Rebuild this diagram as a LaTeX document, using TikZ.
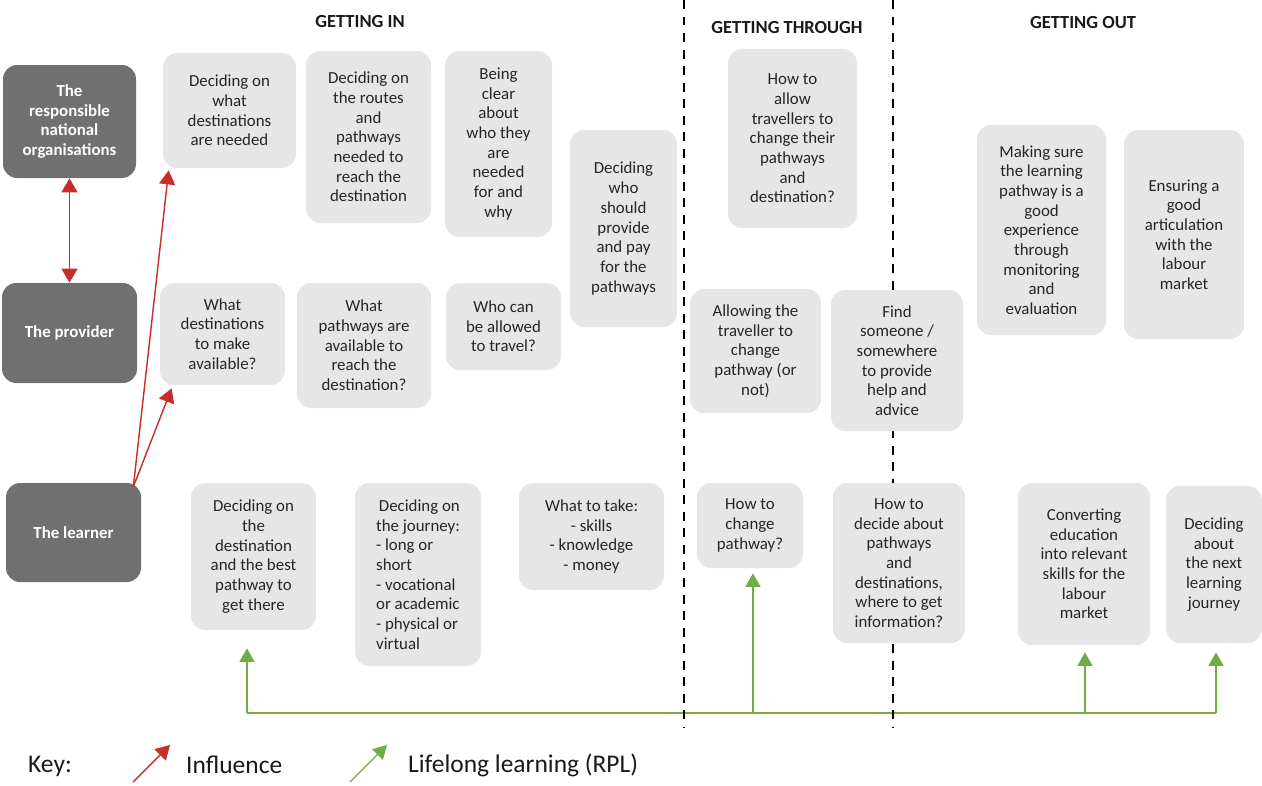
\documentclass[tikz,border=0pt]{standalone}
\usepackage{fontspec}
\setmainfont{Carlito}
\definecolor{actorgrey}{RGB}{112, 112, 112}
\definecolor{boxgrey}{RGB}{230, 230, 230}
\definecolor{influence}{RGB}{200, 45, 40}
\definecolor{rpl}{RGB}{112, 173, 71}
\usetikzlibrary{arrows.meta, calc}
\tikzset{
    actorbox/.style={
        rectangle,
        draw=none,
        fill=actorgrey,
        text=white,
        rounded corners=8pt,
        align=center,
        font=\fontsize{9.6}{11.2}\selectfont\bfseries
    },
    questionbox/.style={
        rectangle,
        draw=none,
        fill=boxgrey,
        text=black!85,
        rounded corners=8pt,
        align=center,
        font=\fontsize{9.6}{11.2}\selectfont
    },
    boxsize/.style 2 args={minimum width=#1*0.02cm, minimum height=#2*0.02cm},
    phasetitle/.style={font=\fontsize{10.5}{12}\selectfont\bfseries, text=black!90},
    divider/.style={line width=1.4pt, dash pattern=on 5.1pt off 4.3pt},
    influencearrow/.style={-{Triangle[length=0.28cm, width=0.32cm]}, line width=0.8pt, color=influence},
    rplline/.style={line width=0.75pt, color=rpl},
    rplarrow/.style={rplline, -{Triangle[length=0.27cm, width=0.3cm]}},
    keytext/.style={font=\fontsize{14.5}{17}\selectfont, anchor=west, text=black!90}
}

\begin{document}
\begin{tikzpicture}[x=0.02cm, y=-0.02cm]
      \useasboundingbox (0,0) rectangle (1262,785);

      % lifelong learning bus
      \coordinate (b1) at (247,713);
      \coordinate (b2) at (753,713);
      \coordinate (b3) at (1085,713);
      \coordinate (b4) at (1216,713);
      \draw[rplline] (b1) -- (b4);

      % phase dividers
      \draw[divider] (684,0) -- (684,728);
      \draw[divider] (893,0) -- (893,728);

      \node[phasetitle] (tin) at (360,22) {GETTING IN};
      \node[phasetitle] (tthrough) at (787,28) {GETTING THROUGH};
      \node[phasetitle] (tout) at (1083,23) {GETTING OUT};

      % actors
      \node[actorbox, boxsize={133}{113}] (org) at (69.5,121.5) {The\\responsible\\national\\organisations};
      \node[actorbox, boxsize={135}{100}] (prov) at (69.5,333) {The provider};
      \node[actorbox, boxsize={135}{99}] (learner) at (73.5,532.5) {The learner};

      % getting in
      \node[questionbox, boxsize={133}{115}] (in1) at (229.5,110.5) {Deciding on\\what\\destinations\\are needed};
      \node[questionbox, boxsize={125}{172}] (in2) at (368.5,137) {Deciding on\\the routes\\and\\pathways\\needed to\\reach the\\destination};
      \node[questionbox, boxsize={107}{186}] (in3) at (498.5,144) {Being\\clear\\about\\who they\\are\\needed\\for and\\why};
      \node[questionbox, boxsize={107}{197}] (in4) at (623.5,228.5) {Deciding\\who\\should\\provide\\and pay\\for the\\pathways};
      \node[questionbox, boxsize={125}{102}] (pr1) at (222.5,334) {What\\destinations\\to make\\available?};
      \node[questionbox, boxsize={134}{125}] (pr2) at (364,345.5) {What\\pathways are\\available to\\reach the\\destination?};
      \node[questionbox, boxsize={115}{87}] (pr3) at (503.5,326.5) {Who can\\be allowed\\to travel?};
      \node[questionbox, boxsize={125}{147}] (le1) at (253.5,556.5) {Deciding on\\the\\destination\\and the best\\pathway to\\get there};
      \node[questionbox, boxsize={126}{183}, align=left] (le2) at (418,574.5) {\,Deciding on\\the journey:\\- long or\\short\\- vocational\\or academic\\- physical or\\virtual};
      \node[questionbox, boxsize={145}{107}] (le3) at (591.5,536.5) {What to take:\\- skills\\- knowledge\\- money};

      % getting through
      \node[questionbox, boxsize={129}{179}] (th1) at (792.5,138.5) {How to\\allow\\travellers to\\change their\\pathways\\and\\destination?};
      \node[questionbox, boxsize={131}{124}] (th2) at (755.5,351) {Allowing the\\traveller to\\change\\pathway (or\\not)};
      \node[questionbox, boxsize={132}{141}] (th3) at (897,360.5) {Find\\someone /\\somewhere\\to provide\\help and\\advice};
      \node[questionbox, boxsize={106}{85}] (th4) at (750,525.5) {How to\\change\\pathway?};
      \node[questionbox, boxsize={132}{160}] (th5) at (899,563) {How to\\decide about\\pathways\\and\\destinations,\\where to get\\information?};

      % getting out
      \node[questionbox, boxsize={129}{210}] (out1) at (1041.5,230) {Making sure\\the learning\\pathway is a\\good\\experience\\through\\monitoring\\and\\evaluation};
      \node[questionbox, boxsize={120}{209}] (out2) at (1184,234.5) {Ensuring a\\good\\articulation\\with the\\labour\\market};
      \node[questionbox, boxsize={132}{162}] (out3) at (1084,564) {Converting\\education\\into relevant\\skills for the\\labour\\market};
      \node[questionbox, boxsize={96}{157}] (out4) at (1214,564.5) {Deciding\\about\\the next\\learning\\journey};

      % influence
      \draw[influencearrow, {Triangle[length=0.28cm, width=0.32cm]}-{Triangle[length=0.28cm, width=0.32cm]}] (org.south) -- (prov.north);
      \draw[influencearrow] ([shift={(-8,4)}]learner.north east) -- ([shift={(6,2)}]in1.south west);
      \draw[influencearrow] ([shift={(-8,4)}]learner.north east) -- ([shift={(12,3)}]pr1.south west);

      % lifelong learning arrows
      \draw[rplarrow, shorten >=0.36cm] (b1) -- (b1 |- le1.south);
      \draw[rplarrow, shorten >=0.1cm] (b2) -- (b2 |- th4.south);
      \draw[rplarrow, shorten >=0.14cm] (b3) -- (b3 |- out3.south);
      \draw[rplarrow, shorten >=0.18cm] (b4) -- (b4 |- out4.south);

      % key
      \node[keytext] (key) at (22,766) {Key:};
      \coordinate (k1) at (133,782);
      \coordinate (k2) at (170,745);
      \draw[influencearrow] (k1) -- (k2);
      \node[keytext] (kinf) at (180,765) {Influence};
      \coordinate (k3) at (350,782);
      \coordinate (k4) at (387,745);
      \draw[rplarrow] (k3) -- (k4);
      \node[keytext] (krpl) at (402,765) {Lifelong learning (RPL)};
    \end{tikzpicture}
\end{document}
